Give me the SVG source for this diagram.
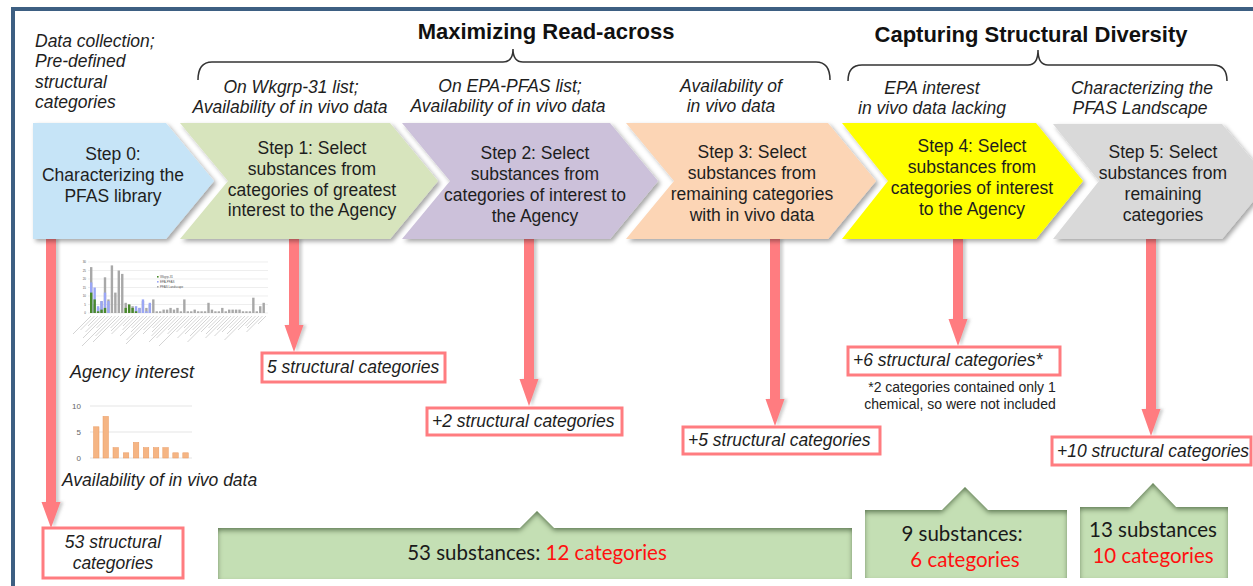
<svg xmlns="http://www.w3.org/2000/svg" width="1253" height="586" viewBox="0 0 1253 586">
<defs>
<style>
.t{font-family:"Liberation Sans",Arial,sans-serif;font-size:17.5px;fill:#1e1e1e}
.c{text-anchor:middle}
.i{font-style:italic}
.h{font-weight:bold;font-size:22px;fill:#111}
.g{font-family:Lato,"Liberation Sans",sans-serif;font-size:20.5px;fill:#1a1a1a}
.red{fill:#ff1010}
.rb{fill:#fff;stroke:#ff7c80;stroke-width:3}
.ar{fill:#ff7c80}
.gb{fill:#c4dfb4}
.br{fill:none;stroke:#333;stroke-width:1.5}
.tiny{font-family:"Liberation Sans",Arial,sans-serif;font-size:3px;fill:#555}
.ax{font-family:"Liberation Sans",Arial,sans-serif;font-size:8px;fill:#666;text-anchor:end}
.fn{font-family:"Liberation Sans",Arial,sans-serif;font-size:14px;fill:#222;text-anchor:middle}
</style>
<filter id="sh" x="-5%" y="-10%" width="115%" height="125%"><feDropShadow dx="2.5" dy="2.5" stdDeviation="2" flood-color="#000" flood-opacity="0.35"/></filter>
<filter id="ash" x="-50%" y="-5%" width="200%" height="110%"><feDropShadow dx="3" dy="0" stdDeviation="1.5" flood-color="#777" flood-opacity="0.35"/></filter>
<filter id="inn" x="-5%" y="-20%" width="110%" height="140%">
<feFlood flood-color="#4e6b40" flood-opacity="0.9" result="f"/>
<feComposite in="f" in2="SourceAlpha" operator="out" result="o"/>
<feGaussianBlur in="o" stdDeviation="2.5" result="b"/>
<feOffset in="b" dy="3" result="ob"/>
<feComposite in="ob" in2="SourceAlpha" operator="in" result="s"/>
<feMerge><feMergeNode in="SourceGraphic"/><feMergeNode in="s"/></feMerge>
</filter>
</defs>
<rect width="1253" height="586" fill="#fff"/>
<rect x="13" y="9" width="1300" height="620" fill="none" stroke="#3d5f82" stroke-width="4"/>

<!-- headers -->
<g id="header-left">
<text class="t i" x="35" y="47">Data collection;</text>
<text class="t i" x="35" y="67">Pre-defined</text>
<text class="t i" x="35" y="88">structural</text>
<text class="t i" x="35" y="108">categories</text>
</g>
<g id="header-read-across">
<text class="t h c" x="546" y="39">Maximizing Read-across</text>
<path class="br" d="M198,80 Q198,62 212,62 L503,62 Q513,62 513,49 Q513,62 523,62 L816,62 Q830,62 830,80"/>
</g>
<g id="header-diversity">
<text class="t h c" x="1031" y="42">Capturing Structural Diversity</text>
<path class="br" d="M848,81 Q848,65 862,65 L1028,65 Q1038,65 1038,50 Q1038,65 1048,65 L1213,65 Q1227,65 1227,81"/>
</g>
<g id="sublabels">
<text class="t i c" x="291" y="93">On Wkgrp-31 list;</text>
<text class="t i c" x="290" y="113">Availability of in vivo data</text>
<text class="t i c" x="510" y="92">On EPA-PFAS list;</text>
<text class="t i c" x="508" y="112">Availability of in vivo data</text>
<text class="t i c" x="731" y="92">Availability of</text>
<text class="t i c" x="731" y="112">in vivo data</text>
<text class="t i c" x="932" y="94">EPA interest</text>
<text class="t i c" x="932" y="114">in vivo data lacking</text>
<text class="t i c" x="1142" y="94">Characterizing the</text>
<text class="t i c" x="1140" y="114">PFAS Landscape</text>
</g>

<!-- connectors (arrows) -->
<g id="connectors" filter="url(#ash)">
<polygon class="ar" points="46,239 56,239 56,502 60.5,502 51,528 41.5,502 46,502"/>
<polygon class="ar" points="289,239 299,239 299,325 303.5,325 294,352 284.5,325 289,325"/>
<polygon class="ar" points="524,239 534,239 534,379 538.5,379 529,406 519.5,379 524,379"/>
<polygon class="ar" points="770,239 780,239 780,399 784.5,399 775,426 765.5,399 770,399"/>
<polygon class="ar" points="953,239 963,239 963,319 967.5,319 958,346 948.5,319 953,319"/>
<polygon class="ar" points="1146,239 1156,239 1156,409 1160.5,409 1151,436 1141.5,409 1146,409"/>
</g>

<!-- chevrons -->
<g id="step0">
<polygon points="33,123 166,123 214,181 166,239 33,239" fill="#c6e4f7" filter="url(#sh)"/>
<text class="t c" x="113" y="160">Step 0:</text>
<text class="t c" x="113" y="181">Characterizing the</text>
<text class="t c" x="113" y="202">PFAS library</text>
</g>
<g id="step1">
<polygon points="180,123 390,123 438,181 390,239 180,239 228,181" fill="#d7e4bd" filter="url(#sh)"/>
<text class="t c" x="312" y="154">Step 1: Select</text>
<text class="t c" x="312" y="175">substances from</text>
<text class="t c" x="312" y="196">categories of greatest</text>
<text class="t c" x="312" y="216">interest to the Agency</text>
</g>
<g id="step2">
<polygon points="402,123 610,123 658,181 610,239 402,239 450,181" fill="#ccc1da" filter="url(#sh)"/>
<text class="t c" x="535" y="159">Step 2: Select</text>
<text class="t c" x="535" y="180">substances from</text>
<text class="t c" x="535" y="201">categories of interest to</text>
<text class="t c" x="535" y="222">the Agency</text>
</g>
<g id="step3">
<polygon points="626,123 828,123 876,181 828,239 626,239 674,181" fill="#fcd5b5" filter="url(#sh)"/>
<text class="t c" x="752" y="158">Step 3: Select</text>
<text class="t c" x="752" y="179">substances from</text>
<text class="t c" x="752" y="200">remaining categories</text>
<text class="t c" x="752" y="221">with in vivo data</text>
</g>
<g id="step4">
<polygon points="842,123 1036,123 1083,181 1036,239 842,239 888,181" fill="#ffff00" filter="url(#sh)"/>
<text class="t c" x="972" y="152">Step 4: Select</text>
<text class="t c" x="972" y="173">substances from</text>
<text class="t c" x="972" y="194">categories of interest</text>
<text class="t c" x="972" y="215">to the Agency</text>
</g>
<g id="step5">
<polygon points="1053,124 1222,124 1270,181 1222,239 1053,239 1099,181" fill="#d9d9d9" filter="url(#sh)"/>
<text class="t c" x="1163" y="158">Step 5: Select</text>
<text class="t c" x="1163" y="179">substances from</text>
<text class="t c" x="1163" y="200">remaining</text>
<text class="t c" x="1163" y="221">categories</text>
</g>

<!-- chart: agency interest -->
<g id="chart-agency">
<g stroke="#e3e3e3" stroke-width="0.6">
<line x1="88" y1="262" x2="268" y2="262"/><line x1="88" y1="270.5" x2="268" y2="270.5"/><line x1="88" y1="279" x2="268" y2="279"/><line x1="88" y1="287.5" x2="268" y2="287.5"/><line x1="88" y1="296" x2="268" y2="296"/><line x1="88" y1="304.5" x2="268" y2="304.5"/><line x1="88" y1="313" x2="268" y2="313"/>
</g>
<g class="tiny" text-anchor="end">
<text x="86" y="263">30</text><text x="86" y="271.5">25</text><text x="86" y="280">20</text><text x="86" y="288.5">15</text><text x="86" y="297">10</text><text x="86" y="305.5">5</text><text x="86" y="314">0</text>
</g>
<g fill="#a8a8a8">
<rect x="90" y="267.1" width="2.4" height="45.9"/><rect x="93.45" y="304.5" width="2.4" height="8.5"/><rect x="96.9" y="307.9" width="2.4" height="5.1"/><rect x="100.35" y="301.1" width="2.4" height="11.9"/><rect x="103.8" y="277.3" width="2.4" height="35.7"/><rect x="107.25" y="299.4" width="2.4" height="13.6"/><rect x="110.7" y="265.4" width="2.4" height="47.6"/><rect x="114.15" y="292.6" width="2.4" height="20.4"/><rect x="117.6" y="270.5" width="2.4" height="42.5"/><rect x="121.05" y="273.9" width="2.4" height="39.1"/><rect x="124.5" y="302.8" width="2.4" height="10.2"/><rect x="127.95" y="304.5" width="2.4" height="8.5"/><rect x="131.4" y="306.2" width="2.4" height="6.8"/><rect x="134.85" y="309.6" width="2.4" height="3.4"/><rect x="138.3" y="307.9" width="2.4" height="5.1"/><rect x="141.75" y="301.1" width="2.4" height="11.9"/><rect x="145.2" y="307.9" width="2.4" height="5.1"/><rect x="148.65" y="304.5" width="2.4" height="8.5"/><rect x="152.1" y="299.4" width="2.4" height="13.6"/>
<rect x="155.55" y="311.3" width="2.4" height="1.7"/><rect x="159" y="311.3" width="2.4" height="1.7"/><rect x="162.45" y="309.6" width="2.4" height="3.4"/><rect x="165.9" y="309.6" width="2.4" height="3.4"/><rect x="169.35" y="307.9" width="2.4" height="5.1"/><rect x="172.8" y="309.6" width="2.4" height="3.4"/><rect x="176.25" y="307.9" width="2.4" height="5.1"/><rect x="179.7" y="311.3" width="2.4" height="1.7"/><rect x="183.15" y="299.4" width="2.4" height="13.6"/><rect x="186.6" y="311.3" width="2.4" height="1.7"/><rect x="190.05" y="311.3" width="2.4" height="1.7"/><rect x="193.5" y="309.6" width="2.4" height="3.4"/><rect x="196.95" y="311.3" width="2.4" height="1.7"/><rect x="200.4" y="311.3" width="2.4" height="1.7"/><rect x="203.85" y="311.3" width="2.4" height="1.7"/><rect x="207.3" y="302.8" width="2.4" height="10.2"/><rect x="210.75" y="309.6" width="2.4" height="3.4"/><rect x="214.2" y="311.3" width="2.4" height="1.7"/><rect x="217.65" y="311.3" width="2.4" height="1.7"/><rect x="221.1" y="307.9" width="2.4" height="5.1"/><rect x="224.55" y="311.3" width="2.4" height="1.7"/><rect x="228" y="309.6" width="2.4" height="3.4"/><rect x="231.45" y="309.6" width="2.4" height="3.4"/><rect x="234.9" y="309.6" width="2.4" height="3.4"/><rect x="238.35" y="309.6" width="2.4" height="3.4"/><rect x="241.8" y="311.3" width="2.4" height="1.7"/><rect x="245.25" y="311.3" width="2.4" height="1.7"/><rect x="248.7" y="311.3" width="2.4" height="1.7"/><rect x="252.15" y="297.7" width="2.4" height="15.3"/><rect x="255.6" y="311.3" width="2.4" height="1.7"/><rect x="259.05" y="306.2" width="2.4" height="6.8"/><rect x="262.5" y="302.8" width="2.4" height="10.2"/>
</g>
<g fill="#9aa6f5">
<rect x="90" y="282.4" width="2.4" height="30.6"/><rect x="93.45" y="287.5" width="2.4" height="25.5"/><rect x="96.9" y="306.2" width="2.4" height="6.8"/><rect x="100.35" y="301.1" width="2.4" height="11.9"/><rect x="103.8" y="292.6" width="2.4" height="20.4"/><rect x="107.25" y="301.1" width="2.4" height="11.9"/><rect x="134.85" y="306.2" width="2.4" height="6.8"/><rect x="138.3" y="307.9" width="2.4" height="5.1"/><rect x="141.75" y="299.4" width="2.4" height="13.6"/><rect x="145.2" y="311.3" width="2.4" height="1.7"/><rect x="148.65" y="302.8" width="2.4" height="10.2"/>
</g>
<g fill="#4a8a2c">
<rect x="90" y="292.6" width="2.4" height="20.4"/><rect x="93.45" y="299.4" width="2.4" height="13.6"/><rect x="96.9" y="311.3" width="2.4" height="1.7"/><rect x="100.35" y="309.6" width="2.4" height="3.4"/><rect x="103.8" y="307.9" width="2.4" height="5.1"/><rect x="124.5" y="307.9" width="2.4" height="5.1"/><rect x="127.95" y="304.5" width="2.4" height="8.5"/><rect x="131.4" y="307.9" width="2.4" height="5.1"/><rect x="134.85" y="311.3" width="2.4" height="1.7"/>
</g>
<path fill="none" stroke="#c9c9c9" stroke-width="0.8" d="M91,316 l-18,18 M94.5,316 l-14,14 M98,316 l-10,10 M101.5,316 l-16,16 M105,316 l-22,22 M108.5,316 l-12,12 M112,316 l-30,30 M115.5,316 l-20,20 M119,316 l-26,26 M122.5,316 l-12,12 M126,316 l-15,15 M129.5,316 l-18,18 M133,316 l-10,10 M136.5,316 l-14,14 M140,316 l-20,20 M143.5,316 l-12,12 M147,316 l-16,16 M150.5,316 l-24,24 M154,316 l-28,28 M157.5,316 l-14,14 M161,316 l-18,18 M164.5,316 l-12,12 M168,316 l-16,16 M171.5,316 l-20,20 M175,316 l-26,26 M178.5,316 l-22,22 M182,316 l-14,14 M185.5,316 l-18,18 M189,316 l-30,30 M192.5,316 l-16,16 M196,316 l-12,12 M199.5,316 l-22,22 M203,316 l-18,18 M206.5,316 l-14,14 M210,316 l-20,20 M213.5,316 l-26,26 M217,316 l-16,16 M220.5,316 l-12,12 M224,316 l-18,18 M227.5,316 l-22,22 M231,316 l-14,14 M234.5,316 l-20,20 M238,316 l-16,16 M241.5,316 l-12,12 M245,316 l-18,18 M248.5,316 l-24,24 M252,316 l-14,14 M255.5,316 l-10,10 M259,316 l-12,12 M262.5,316 l-16,16 M266,316 l-8,8"/>
<rect x="157" y="276" width="1.6" height="1.6" fill="#4a8a2c"/><text class="tiny" x="160" y="278">Wkgrp-31</text>
<rect x="157" y="281" width="1.6" height="1.6" fill="#9aa6f5"/><text class="tiny" x="160" y="283">EPA-PFAS</text>
<rect x="157" y="286" width="1.6" height="1.6" fill="#a8a8a8"/><text class="tiny" x="160" y="288">PFAS Landscape</text>
<text class="t i" x="70" y="378" style="font-size:18px">Agency interest</text>
</g>

<!-- chart: in vivo availability -->
<g id="chart-invivo">
<g stroke="#dedede" stroke-width="0.8"><line x1="90" y1="406" x2="192" y2="406"/><line x1="90" y1="432" x2="192" y2="432"/><line x1="90" y1="458" x2="192" y2="458"/></g>
<text class="ax" x="81" y="409">10</text><text class="ax" x="81" y="435">5</text><text class="ax" x="81" y="461">0</text>
<g fill="#f5b584" stroke="#e99a62" stroke-width="0.5">
<rect x="93.5" y="426.8" width="5.5" height="31.2"/><rect x="103" y="416.4" width="5.5" height="41.6"/><rect x="113" y="447.6" width="5.5" height="10.4"/><rect x="123.3" y="452.8" width="5.5" height="5.2"/><rect x="133.3" y="442.4" width="5.5" height="15.6"/><rect x="143.3" y="447.6" width="5.5" height="10.4"/><rect x="153.3" y="447.6" width="5.5" height="10.4"/><rect x="162.8" y="447.6" width="5.5" height="10.4"/><rect x="172.8" y="452.8" width="5.5" height="5.2"/><rect x="182.8" y="452.8" width="5.5" height="5.2"/>
</g>
<text class="t i" x="62" y="486">Availability of in vivo data</text>
</g>

<!-- red result boxes -->
<g id="res0"><rect class="rb" x="43" y="528" width="140" height="50"/>
<text class="t i c" x="113" y="548">53 structural</text><text class="t i c" x="113" y="569">categories</text></g>
<g id="res1"><rect class="rb" x="262" y="353" width="183" height="29"/><text class="t i" x="267" y="373">5 structural categories</text></g>
<g id="res2"><rect class="rb" x="427" y="408" width="195" height="27"/><text class="t i" x="432" y="427">+2 structural categories</text></g>
<g id="res3"><rect class="rb" x="683" y="427" width="197" height="27"/><text class="t i" x="688" y="446">+5 structural categories</text></g>
<g id="res4"><rect class="rb" x="848" y="347" width="212" height="28"/><text class="t i" x="853" y="366">+6 structural categories*</text>
<text class="fn" x="962" y="392">*2 categories contained only 1</text><text class="fn" x="960" y="409">chemical, so were not included</text></g>
<g id="res5"><rect class="rb" x="1052" y="437" width="199" height="28"/><text class="t i" x="1057" y="457">+10 structural categories</text></g>

<!-- green summary callouts -->
<g id="sum-readacross">
<path class="gb" filter="url(#inn)" d="M218,528 L520,528 L537,511 L554,528 L852,528 L852,579 L218,579 Z"/>
<text class="g c" x="537" y="560">53 substances: <tspan class="red">12 categories</tspan></text>
</g>
<g id="sum-step4">
<path class="gb" filter="url(#inn)" d="M865,510 L942,510 L965,487 L988,510 L1067,510 L1067,578 L865,578 Z"/>
<text class="g c" x="962" y="541">9 substances:</text>
<text class="g c red" x="965" y="567">6 categories</text>
</g>
<g id="sum-step5">
<path class="gb" filter="url(#inn)" d="M1080,507 L1130,507 L1153,483 L1176,507 L1228,507 L1228,578 L1080,578 Z"/>
<text class="g c" x="1153" y="537">13 substances</text>
<text class="g c red" x="1153" y="563">10 categories</text>
</g>
</svg>
